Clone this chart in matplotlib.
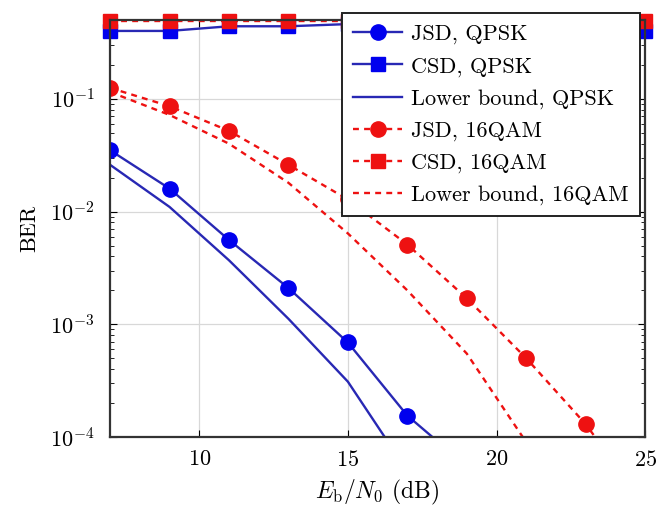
import numpy as np
import matplotlib
matplotlib.use("Agg")
import matplotlib.pyplot as plt

# Eb/N0 (dB)
snr = [7, 9, 11, 13, 15, 17, 19, 21, 23, 25]

# QPSK
jsd_qpsk = [0.035, 0.016, 0.0056, 0.0021, 0.00069, 0.000155, 5.5e-5]
csd_qpsk = [0.40, 0.40, 0.44, 0.44, 0.46, 0.46, 0.46, 0.46, 0.46, 0.40]
lb_qpsk = [0.026, 0.011, 0.0037, 0.00112, 0.00031, 5e-5]

# 16QAM
jsd_16qam = [0.125, 0.086, 0.052, 0.026, 0.0128, 0.0051, 0.0017, 0.0005, 0.00013, 2.5e-5]
csd_16qam = [0.49, 0.49, 0.49, 0.49, 0.49, 0.49, 0.49, 0.49, 0.49, 0.49]
lb_16qam = [0.115, 0.072, 0.040, 0.018, 0.0064, 0.002, 0.00055, 9e-5, 8e-6]

plt.rcParams['font.family'] = ['cmr10', 'DejaVu Serif']
plt.rcParams['mathtext.fontset'] = 'cm'
plt.rcParams['axes.formatter.use_mathtext'] = True
plt.rcParams['axes.unicode_minus'] = False

fig = plt.figure(figsize=(6.59, 5.13), dpi=100)
ax = fig.add_axes([0.167, 0.148, 0.812, 0.813])

blue_l = '#2828b4'
blue_m = '#0000ee'
red = '#ee1111'
dash = (0, (2.5, 2.2))

ax.plot(snr[:len(jsd_qpsk)], jsd_qpsk, color=blue_l, lw=1.7, marker='o', ms=11,
        mfc=blue_m, mec=blue_m, label='JSD, QPSK')
ax.plot(snr, csd_qpsk, color=blue_l, lw=1.7, marker='s', ms=10,
        mfc=blue_m, mec=blue_m, label='CSD, QPSK', clip_on=False)
ax.plot(snr[:len(lb_qpsk)], lb_qpsk, color=blue_l, lw=1.7, label='Lower bound, QPSK')
ax.plot(snr, jsd_16qam, color=red, lw=1.7, ls=dash, marker='o', ms=11,
        mfc=red, mec=red, label='JSD, 16QAM')
ax.plot(snr, csd_16qam, color=red, lw=1.7, ls=dash, marker='s', ms=10,
        mfc=red, mec=red, label='CSD, 16QAM', clip_on=False)
ax.plot(snr[:len(lb_16qam)], lb_16qam, color=red, lw=1.7, ls=dash,
        label='Lower bound, 16QAM')

ax.set_yscale('log')
ax.set_xlim(7, 25)
ax.set_ylim(1e-4, 0.5)
ax.set_xticks([10, 15, 20, 25])
ax.set_yticks([1e-4, 1e-3, 1e-2, 1e-1])
ax.grid(True, which='major', color='#d8d8d8', lw=0.9)
ax.tick_params(which='both', direction='in', top=True, right=True, labelsize=16)
ax.tick_params(axis='y', pad=11)
ax.tick_params(axis='x', pad=9)
ax.tick_params(which='major', length=5)
ax.tick_params(which='minor', length=3)
for s in ax.spines.values():
    s.set_linewidth(1.6)
    s.set_color('#333333')

ax.set_xlabel(r'$E_\mathrm{b}/N_0$ (dB)', fontsize=17, labelpad=6)
ax.set_ylabel('BER', fontsize=16, labelpad=8)

leg = ax.legend(loc='upper right', bbox_to_anchor=(0.99, 1.016), fontsize=16,
                frameon=True, fancybox=False, edgecolor='#222222', framealpha=1,
                handlelength=2.2, labelspacing=0.55, borderpad=0.5,
                handletextpad=0.4, borderaxespad=0)
leg.get_frame().set_linewidth(1.4)
leg.set_zorder(10)

fig.savefig('out.png', dpi=100)
